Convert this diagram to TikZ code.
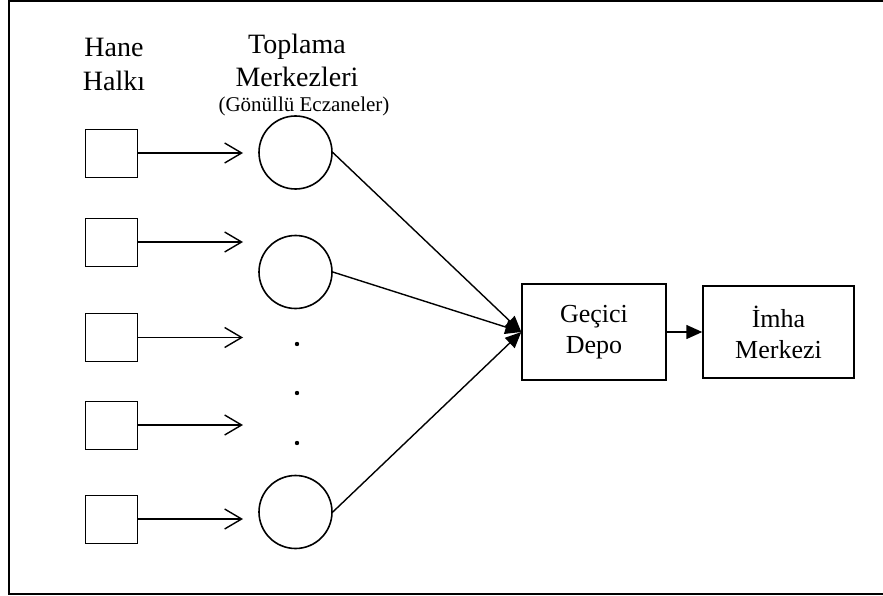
\documentclass[tikz,border=0pt]{standalone}
\usepackage{fontspec}
\setmainfont{Liberation Serif}
\usetikzlibrary{arrows.meta}
\tikzset{
  hbox/.style={draw, line width=0.9pt, minimum width=52pt, minimum height=48pt, inner sep=0pt},
  ctr/.style={draw, circle, line width=1.6pt, minimum size=73pt, inner sep=0pt},
  bigbox/.style={draw, line width=1.4pt, inner sep=0pt, align=center, font=\fontsize{26}{31}\selectfont},
  lbl/.style={align=center, inner sep=0pt, font=\fontsize{28}{34}\selectfont},
  openarr/.style={line width=1.4pt, -{Straight Barb[length=17pt,width=20pt,line width=1.4pt]}},
  fillarr/.style={line width=1.4pt, -{Triangle[length=16pt,width=14pt]}},
}
\begin{document}
\begin{tikzpicture}[x=1pt,y=-1pt]
\useasboundingbox (0,0) rectangle (883,596);
\clip (0,0) rectangle (883,596);
\draw[line width=2pt] (9,1.5) rectangle (890,593.5);

\node[lbl] (hane) at (114,64.5) {Hane\\Halkı};
\node[lbl, font=\fontsize{28}{33}\selectfont] (toplama) at (297,60) {Toplama\\Merkezleri};
\node[inner sep=0pt, font=\fontsize{21}{25}\selectfont] (gon) at (304,106.5) {(Gönüllü Eczaneler)};

\node[hbox] (h1) at (111,153) {};
\node[hbox] (h2) at (111,242) {};
\node[hbox] (h3) at (111,337.5) {};
\node[hbox] (h4) at (111,425) {};
\node[hbox] (h5) at (111,519) {};

\coordinate (a1) at (243,153);
\coordinate (a2) at (243,242);
\coordinate (a3) at (243,337.5);
\coordinate (a4) at (243,425);
\coordinate (a5) at (243,519);

\foreach \i in {1,...,5} \draw[openarr] (h\i.east) -- (a\i);

\node[ctr] (c1) at (295.5,152.5) {};
\node[ctr] (c2) at (295.5,272) {};
\node[ctr] (c3) at (295.5,512) {};

\fill (297,344) circle (2.2pt);
\fill (297,393) circle (2.2pt);
\fill (297,443) circle (2.2pt);

\node[bigbox, minimum width=144pt, minimum height=96pt] (dep) at (594,332) {Geçici\\Depo};
\node[bigbox, minimum width=151pt, minimum height=92pt] (imha) at (778.5,332) {İmha\\Merkezi};

\draw[fillarr] (c1.east) -- (dep.west);
\draw[fillarr] (c2.east) -- (dep.west);
\draw[fillarr] (c3.east) -- (dep.west);
\draw[fillarr] (dep.east) -- (imha.west);
\end{tikzpicture}
\end{document}
